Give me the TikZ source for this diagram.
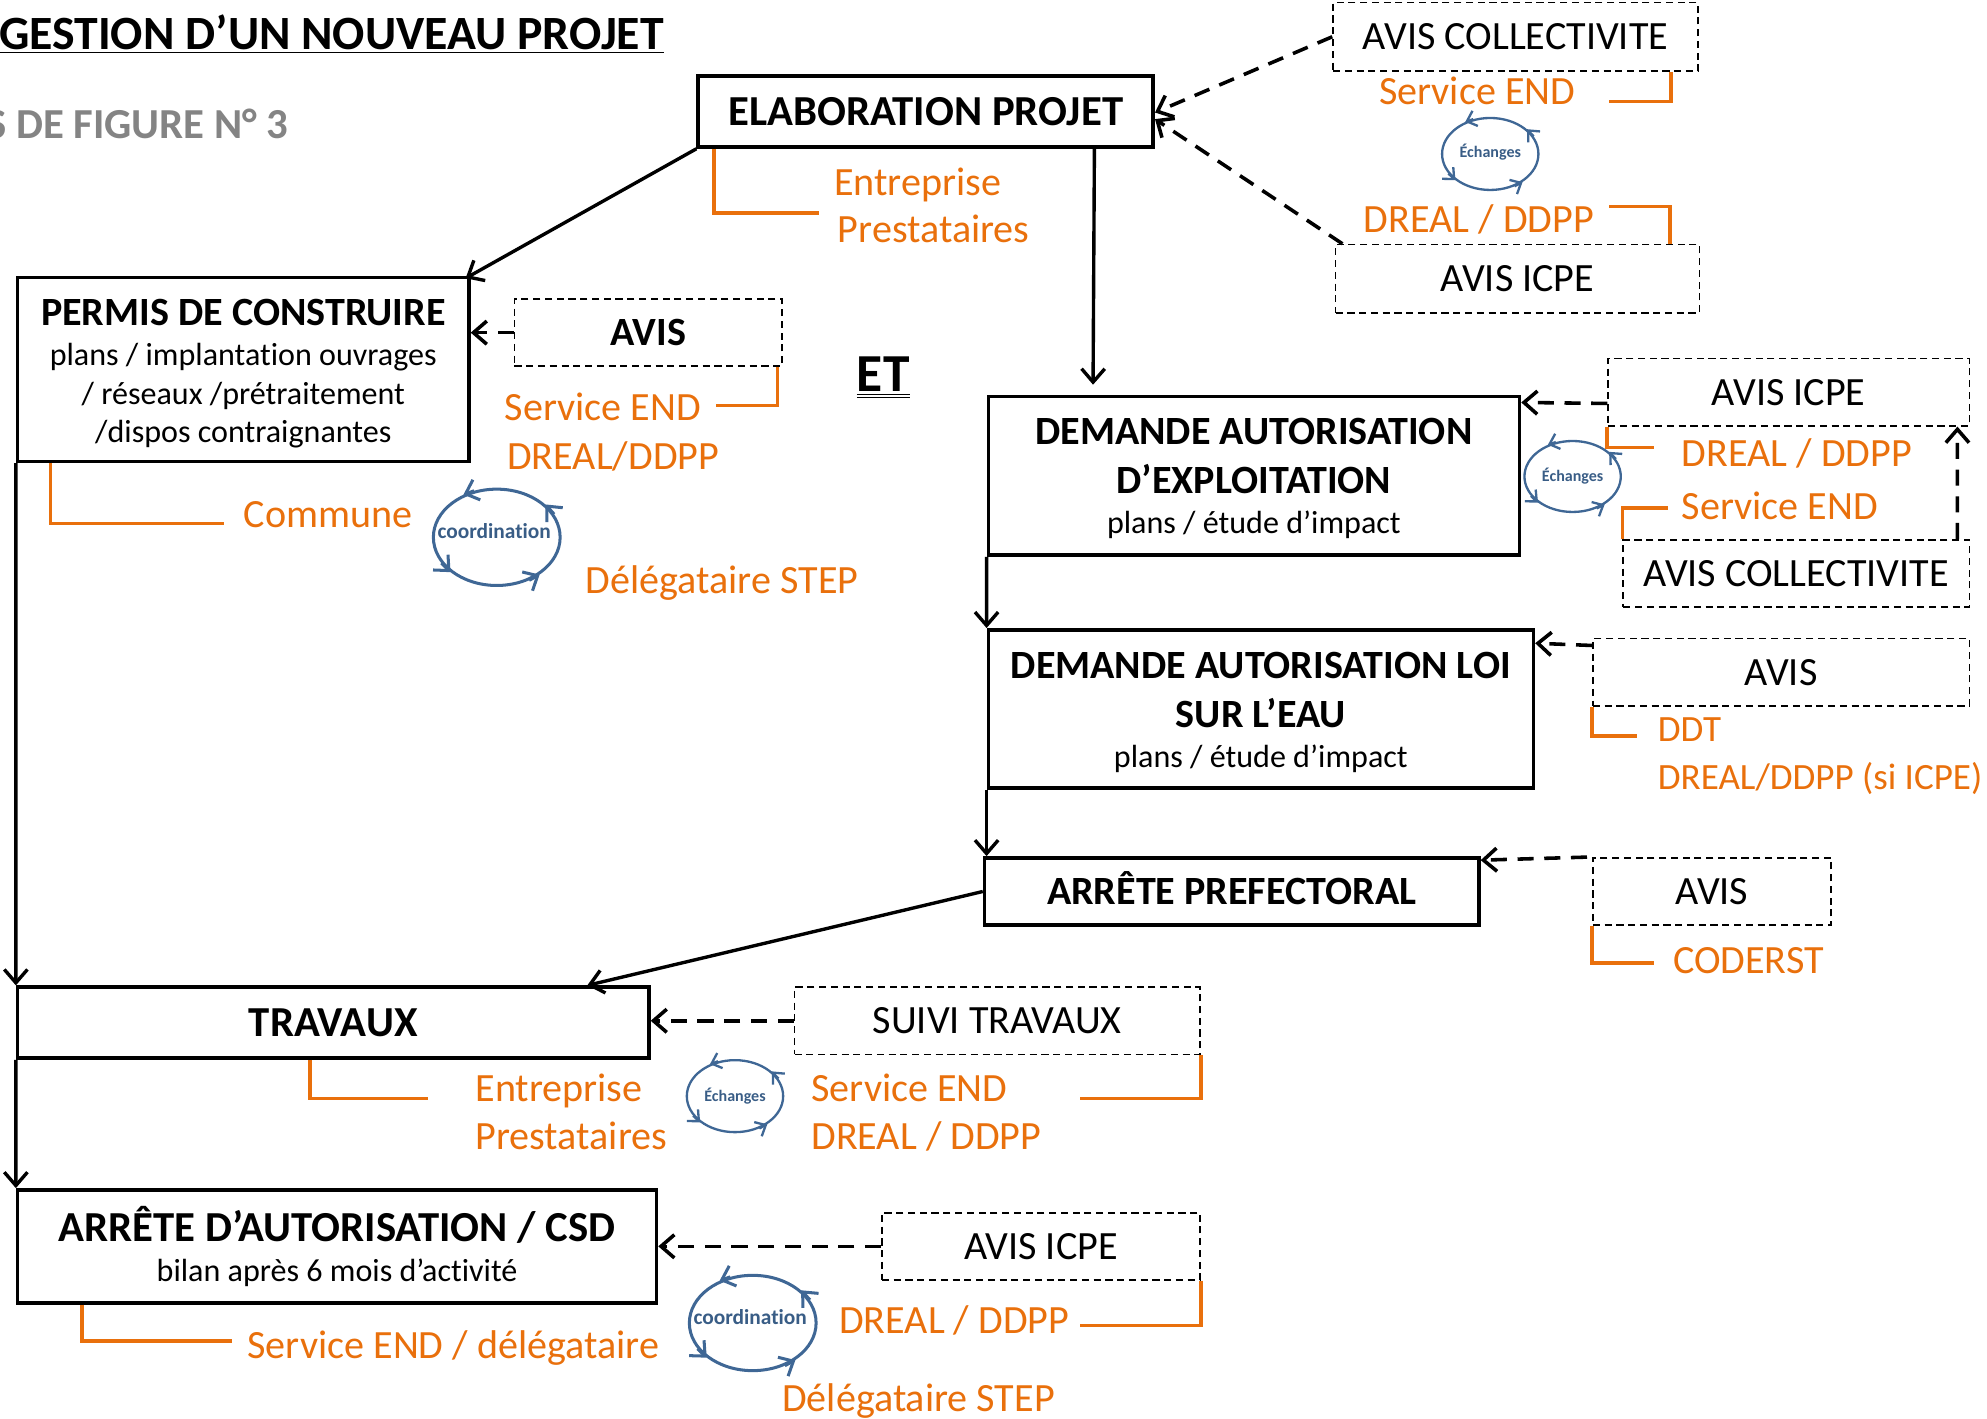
\documentclass[tikz,border=0pt]{standalone}
\usepackage{fontspec}
\setmainfont[Ligatures=NoCommon]{Carlito}
\usetikzlibrary{arrows.meta,shapes.geometric}

\definecolor{orangelabel}{HTML}{E9700C}
\definecolor{bluering}{HTML}{3F6795}
\definecolor{greytitle}{HTML}{848484}

\newcommand{\bigtxt}{\fontsize{22.5}{27.5}\selectfont}
\newcommand{\boldtxt}{\fontsize{24}{28}\selectfont\bfseries}
\newcommand{\smalltxt}{\fontsize{18}{21.5}\selectfont}

\tikzset{
  >={Straight Barb[length=7.5pt,width=13pt]},
  mainbox/.style={draw,line width=2pt,inner sep=0pt,align=center,font=\bigtxt},
  avisbox/.style={draw,line width=0.9pt,dash pattern=on 4pt off 2.6pt,inner sep=0pt,align=center,font=\bigtxt},
  flow/.style={->,line width=1.9pt},
  avisflow/.style={->,line width=2pt,dash pattern=on 9pt off 6pt},
  elbow/.style={draw=orangelabel,line width=2pt},
  lbl/.style={anchor=west,inner sep=0pt,text height=14.5pt,text depth=0pt,text=orangelabel,font=\bigtxt},
  ring/.style={ellipse,draw=bluering,inner sep=0pt},
  ringtxt/.style={inner sep=0pt,text=bluering!90!black,font=\bfseries}
}

\begin{document}
\begin{tikzpicture}[x=0.025cm,y=-0.025cm]
\useasboundingbox (0,0) rectangle (1568,1119);

% titres
\node[anchor=west,inner sep=0pt,font=\fontsize{26.8}{30}\selectfont\bfseries] (titre) at (-1,27) {\underline{GESTION D’UN NOUVEAU PROJET}};
\node[anchor=east,inner sep=0pt,text=greytitle,font=\fontsize{24}{28}\selectfont\bfseries] (cas) at (228,98) {S DE FIGURE N° 3};
\node[inner sep=0pt,font=\fontsize{30}{34}\selectfont\bfseries] (et) at (697,298) {\underline{\underline{ET}}};

% etapes
\node[mainbox,font=\boldtxt,minimum width=8.975cm,minimum height=1.4cm] (elab) at (730.5,88) {ELABORATION PROJET};
\node[mainbox,minimum width=8.9cm,minimum height=3.625cm] (permis) at (192,291.5) {\rule{0pt}{19.5pt}\textbf{PERMIS DE CONSTRUIRE}\\[-5pt]
  \smalltxt plans / implantation ouvrages\\[-6pt] \smalltxt / réseaux /prétraitement\\[-6pt] \smalltxt /dispos contraignantes};
\node[mainbox,minimum width=10.475cm,minimum height=3.125cm] (dae) at (989.5,375.5) {\rule{0pt}{17.3pt}\textbf{DEMANDE AUTORISATION}\\\textbf{D’EXPLOITATION}\\[-5pt]\smalltxt plans / étude d’impact};
\node[mainbox,minimum width=10.75cm,minimum height=3.125cm] (dal) at (995,559.5) {\rule{0pt}{18.1pt}\textbf{DEMANDE AUTORISATION LOI}\\\textbf{SUR L’EAU}\\[-5pt]\smalltxt plans / étude d’impact};
\node[mainbox,minimum width=9.75cm,minimum height=1.325cm,text height=14.5pt,text depth=0pt] (pref) at (972,703.5) {\bfseries ARRÊTE PREFECTORAL};
\node[mainbox,font=\boldtxt,minimum width=12.45cm,minimum height=1.4cm] (trav) at (263,807) {TRAVAUX};
\node[mainbox,minimum width=12.6cm,minimum height=2.225cm] (csd) at (266,983.5) {\textbf{\boldtxt ARRÊTE D’AUTORISATION / CSD}\\[-5pt]\smalltxt bilan après 6 mois d’activité};

% avis
\node[avisbox,minimum width=7.2cm,minimum height=1.35cm] (colla) at (1196,29) {AVIS COLLECTIVITE};
\node[avisbox,minimum width=7.175cm,minimum height=1.35cm] (icpea) at (1197.5,220) {AVIS ICPE};
\node[avisbox,minimum width=5.275cm,minimum height=1.325cm] (avisp) at (511.5,262.5) {\bfseries AVIS};
\node[avisbox,minimum width=7.125cm,minimum height=1.325cm] (icpeb) at (1411.5,309.5) {AVIS ICPE};
\node[avisbox,minimum width=6.825cm,minimum height=1.325cm] (collb) at (1417.5,452.5) {AVIS COLLECTIVITE};
\node[avisbox,minimum width=7.425cm,minimum height=1.325cm] (avisl) at (1405.5,530.5) {AVIS};
\node[avisbox,minimum width=4.7cm,minimum height=1.325cm] (avisa) at (1351,703.5) {AVIS};
\node[avisbox,minimum width=8cm,minimum height=1.325cm] (suivi) at (787,805.5) {SUIVI TRAVAUX};
\node[avisbox,minimum width=6.275cm,minimum height=1.325cm] (icpec) at (821.5,983.5) {AVIS ICPE};

% textes orange
\node[lbl] (l1) at (658,144) {Entreprise};
\node[lbl] (l2) at (661,181) {Prestataires};
\node[lbl] (l3) at (1088,72) {Service END};
\node[lbl] (l4) at (1076,173) {DREAL / DDPP};
\node[lbl] (l5) at (398,322) {Service END};
\node[lbl] (l6) at (400,360) {DREAL/DDPP};
\node[lbl] (l7) at (192,406) {Commune};
\node[lbl] (l8) at (462,458) {Délégataire STEP};
\node[lbl] (l9) at (1327,358) {DREAL / DDPP};
\node[lbl] (l10) at (1327,400) {Service END};
\node[lbl,font=\fontsize{20.8}{25}\selectfont] (l11) at (1308,575) {DDT};
\node[lbl,font=\fontsize{20.8}{25}\selectfont] (l12) at (1308,613) {DREAL/DDPP (si ICPE)};
\node[lbl] (l13) at (1320,758) {CODERST};
\node[lbl] (l14) at (375,859) {Entreprise};
\node[lbl] (l15) at (375,897) {Prestataires};
\node[lbl] (l16) at (640,859) {Service END};
\node[lbl] (l17) at (640,897) {DREAL / DDPP};
\node[lbl] (l18) at (195,1062) {Service END / délégataire};
\node[lbl] (l19) at (662,1042) {DREAL / DDPP};
\node[lbl] (l20) at (617,1104) {Délégataire STEP};

% cycles
\node[ring,line width=1.3pt,minimum width=1.9cm,minimum height=1.42cm] (echa) at (1176,121.5) {};
\node[ring,line width=1.3pt,minimum width=1.9cm,minimum height=1.4cm] (echb) at (1241,376) {};
\node[ring,line width=1.3pt,minimum width=1.9cm,minimum height=1.42cm] (echc) at (580,865) {};
\node[ring,line width=1.7pt,minimum width=2.5cm,minimum height=1.9cm] (coa) at (392,424) {};
\node[ring,line width=1.7pt,minimum width=2.5cm,minimum height=1.88cm] (cob) at (594,1044) {};
\node[ringtxt,font=\fontsize{9}{10}\selectfont\bfseries] (echat) at ([yshift=0.03cm]echa.center) {Échanges};
\node[ringtxt,font=\fontsize{9}{10}\selectfont\bfseries] (echbt) at (echb) {Échanges};
\node[ringtxt,font=\fontsize{9}{10}\selectfont\bfseries] (echct) at (echc) {Échanges};
\node[ringtxt,font=\fontsize{12}{14}\selectfont\bfseries] (coat) at ([xshift=-0.05cm,yshift=0.12cm]coa.center) {coordination};
\node[ringtxt,font=\fontsize{12}{14}\selectfont\bfseries] (cobt) at ([xshift=-0.05cm,yshift=0.12cm]cob.center) {coordination};
\foreach \n/\w/\t in {echa/1.3/9,echb/1.3/9,echc/1.3/9,coa/1.7/12,cob/1.7/12}
  \foreach \a/\b in {22/34,116/128,205/217,307/319}
    \draw[->,draw=bluering,line width=\w pt,>={Straight Barb[length=0.55*\t pt,width=\t pt]}] (\n.\a) -- (\n.\b);

% fleches
\draw[flow] (elab.south west) -- ([xshift=-0.1cm,yshift=-0.05cm]permis.north east);
\draw[flow] ([xshift=7.85cm]elab.south west) -- ([xshift=2.1cm,yshift=0.2cm]dae.north west);
\draw[flow] (permis.south west) -- (trav.north west);
\draw[flow] (dae.south west) -- (dal.north west);
\draw[flow] (dal.south west) -- (dal.south west |- pref.north);
\draw[flow] (pref.west) -- ([xshift=-1.25cm]trav.north east);
\draw[flow] (trav.south west) -- (csd.north west);

\draw[avisflow] (colla.west) -- ([yshift=-0.02cm]elab.east);
\draw[avisflow] ([xshift=0.15cm]icpea.north west) -- ([yshift=-0.15cm]elab.east);
\draw[avisflow] (avisp.west) -- (avisp.west -| permis.east);
\draw[avisflow] ([yshift=-0.9cm]icpeb.north west) -- ([yshift=-0.15cm]dae.north east);
\draw[avisflow] ([xshift=-0.25cm]collb.north east) -- ([xshift=-0.25cm]icpeb.south east);
\draw[avisflow] ([yshift=-0.15cm]avisl.north west) -- ([yshift=-0.3cm]dal.north east);
\draw[avisflow] ([xshift=-0.1cm]avisa.north west) -- ([yshift=-0.08cm]pref.north east);
\draw[avisflow] (suivi.west) -- (suivi.west -| trav.east);
\draw[avisflow] (icpec.west) -- (icpec.west -| csd.east);

% equerres orange
\coordinate (e1) at (646,168);
\coordinate (e2) at (1270,80);
\coordinate (e3) at (1270,163);
\coordinate (e4) at (565,320);
\coordinate (e5) at (177,413);
\coordinate (e6) at (1305,353);
\coordinate (e7) at (1316,401);
\coordinate (e8) at (1292,581);
\coordinate (e9) at (1305,760);
\coordinate (e10) at (338,867);
\coordinate (e11) at (852,867);
\coordinate (e12) at (183,1058);
\coordinate (e13) at (852,1046);
\draw[elbow] ([xshift=0.35cm]elab.south west) |- (e1);
\draw[elbow] ([xshift=-0.55cm]colla.south east) |- (e2);
\draw[elbow] ([xshift=-0.6cm]icpea.north east) |- (e3);
\draw[elbow] ([xshift=-0.1cm]avisp.south east) |- (e4);
\draw[elbow] ([xshift=0.68cm]permis.south west) |- (e5);
\draw[elbow] (icpeb.south west) |- (e6);
\draw[elbow] (collb.north west) |- (e7);
\draw[elbow] (avisl.south west) |- (e8);
\draw[elbow] (avisa.south west) |- (e9);
\draw[elbow] ([xshift=5.8cm]trav.south west) |- (e10);
\draw[elbow] (suivi.south east) |- (e11);
\draw[elbow] ([xshift=1.3cm]csd.south west) |- (e12);
\draw[elbow] (icpec.south east) |- (e13);

\end{tikzpicture}
\end{document}
